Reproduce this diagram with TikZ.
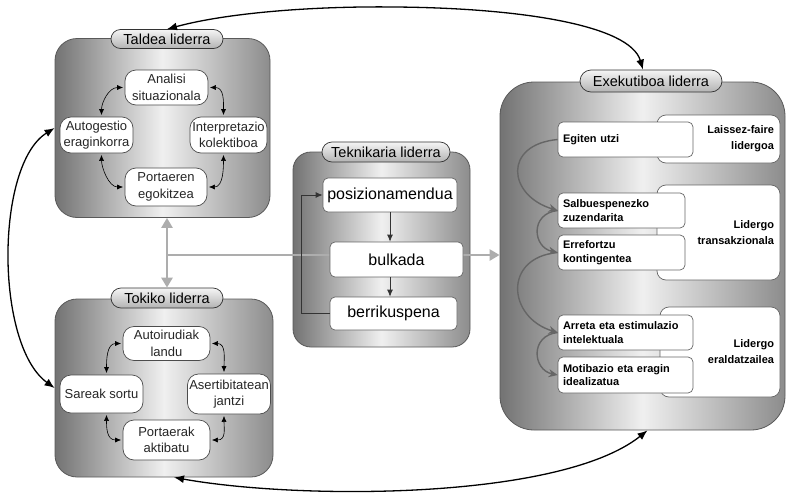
\documentclass[tikz,border=0pt]{standalone}
\usepackage{fontspec}
\setmainfont{Liberation Sans}
\usetikzlibrary{arrows.meta,shapes.misc,calc}
\definecolor{boxL}{gray}{0.45}
\definecolor{boxM}{gray}{0.94}
\definecolor{boxR}{gray}{0.55}
\definecolor{linkgray}{gray}{0.68}
\definecolor{loopgray}{gray}{0.40}
\begin{document}
\begin{tikzpicture}[x=1pt,y=-1pt,
  bigbox/.style={draw=black!65, line width=0.8pt, rounded corners=22pt,
    left color=boxL, right color=boxR, middle color=boxM},
  pill/.style={draw=black!80, line width=0.7pt, rounded rectangle, inner sep=0pt,
    top color=black!4, bottom color=black!30,
    font=\fontsize{14.5}{16}\selectfont},
  cyc/.style={draw=black!70, line width=0.7pt, fill=white, rounded corners=11pt,
    align=center, inner sep=1pt, text=black!85,
    font=\fontsize{13}{16.5}\selectfont},
  tekbox/.style={draw=black!60, line width=0.7pt, fill=white, rounded corners=5pt,
    inner sep=0pt, font=\fontsize{16}{18}\selectfont},
  exleft/.style={draw=black!60, line width=0.7pt, fill=white, rounded corners=5pt,
    inner xsep=5pt, inner ysep=0pt, align=left,
    font=\bfseries\fontsize{11}{13.5}\selectfont},
  exright/.style={draw=black!60, line width=0.7pt, fill=white, rounded corners=9pt,
    inner xsep=6pt, inner ysep=0pt, align=right,
    font=\bfseries\fontsize{11}{16}\selectfont},
  cycarr/.style={draw=black, line width=0.6pt, shorten <=1.5pt, shorten >=1.5pt,
    {Latex[length=6pt,width=5pt]}-{Latex[length=6pt,width=5pt]}},
  tekarr/.style={draw=black!80, line width=0.8pt, -{Latex[length=7pt,width=6pt]}},
  exarr/.style={draw=loopgray, line width=1.4pt, -{Stealth[length=9pt,width=8pt]}},
  bigboth/.style={draw=black, line width=1.3pt,
    {Latex[length=10pt,width=8pt]}-{Latex[length=10pt,width=8pt]}},
  graylink/.style={draw=linkgray, line width=2.5pt},
]
\useasboundingbox (0,0) rectangle (788,498);

% containers
\node[bigbox, minimum width=215, minimum height=179] (taldea) at (162.5,128) {};
\node[bigbox, minimum width=218, minimum height=178] (tokiko) at (164,388) {};
\node[bigbox, minimum width=177, minimum height=195, rounded corners=18pt] (tek) at (381.5,249.5) {};
\node[bigbox, minimum width=285, minimum height=348, rounded corners=34pt] (exek) at (642.5,256) {};

% container titles
\node[pill, minimum width=112, minimum height=19] (taldeaT) at (167,39) {Taldea liderra};
\node[pill, minimum width=112, minimum height=20] (tokikoT) at (167,298) {Tokiko liderra};
\node[pill, minimum width=128, minimum height=20] (tekT) at (386,152) {Teknikaria liderra};
\node[pill, minimum width=142, minimum height=22] (exekT) at (651,81) {Exekutiboa liderra};

% grey links between the groups
\coordinate (j) at (tokikoT.north |- 0,255);
\draw[graylink, {Triangle[length=10pt,width=11pt]}-{Triangle[length=10pt,width=11pt]}]
  (taldea.south -| tokikoT.north) -- (tokikoT.north);
\draw[graylink, -{Triangle[length=10pt,width=11pt]}] (j) -- (j -| exek.west);

% Taldea liderra cycle
\node[cyc, minimum width=83, minimum height=35] (analisi) at (166.5,87.5) {Analisi\\situazionala};
\node[cyc, minimum width=73, minimum height=36] (autog) at (96.5,135) {Autogestio\\eraginkorra};
\node[cyc, minimum width=77, minimum height=36] (interp) at (228.5,135) {Interpretazio\\kolektiboa};
\node[cyc, minimum width=82, minimum height=38] (portaeren) at (166,187) {Portaeren\\egokitzea};
\draw[cycarr] (analisi.west) .. controls +(-16,0) and +(0,-14) .. ([xshift=5pt]autog.north);
\draw[cycarr] (analisi.east) .. controls +(16,0) and +(0,-14) .. ([xshift=-5pt]interp.north);
\draw[cycarr] ([xshift=5pt]autog.south) .. controls +(0,14) and +(-16,0) .. (portaeren.west);
\draw[cycarr] ([xshift=-5pt]interp.south) .. controls +(0,14) and +(16,0) .. (portaeren.east);

% Tokiko liderra cycle
\node[cyc, minimum width=87, minimum height=34] (autoir) at (166.5,343.5) {Autoirudiak\\landu};
\node[cyc, minimum width=83, minimum height=38] (sareak) at (101.5,394) {Sareak sortu};
\node[cyc, minimum width=83, minimum height=40] (asert) at (229,394) {Asertibitatean\\jantzi};
\node[cyc, minimum width=87, minimum height=40] (portaerak) at (166.5,440) {Portaerak\\aktibatu};
\draw[cycarr] (autoir.west) .. controls +(-16,0) and +(0,-14) .. ([xshift=5pt]sareak.north);
\draw[cycarr] (autoir.east) .. controls +(16,0) and +(0,-14) .. ([xshift=-5pt]asert.north);
\draw[cycarr] ([xshift=5pt]sareak.south) .. controls +(0,14) and +(-16,0) .. (portaerak.west);
\draw[cycarr] ([xshift=-5pt]asert.south) .. controls +(0,14) and +(16,0) .. (portaerak.east);

% Teknikaria liderra sequence
\node[tekbox, minimum width=134, minimum height=34] (pos) at (390,195) {posizionamendua};
\node[tekbox, minimum width=133, minimum height=35] (bulk) at (396.5,259.5) {bulkada};
\node[tekbox, minimum width=127, minimum height=33] (berr) at (393.5,313.5) {berrikuspena};
\draw[tekarr] (pos.south) -- (pos.south |- bulk.north);
\draw[tekarr] (bulk.south -| pos.south) -- (berr.north -| pos.south);
\draw[tekarr] (berr.west) -- ++(-28,0) |- (pos.west);

% Exekutiboa liderra styles
\node[exright, minimum height=48, text width=111] (laissez) at (718.5,139) {Laissez-faire\\lidergoa};
\node[exright, minimum height=95, text width=111] (transak) at (718.5,232.5) {Lidergo\\transakzionala};
\node[exright, minimum height=90, text width=108] (eraldatz) at (720,352) {Lidergo\\eraldatzailea};
\node[exleft, minimum height=35, text width=125] (egiten) at (625.5,139.5) {Egiten utzi};
\node[exleft, minimum height=35, text width=117] (salb) at (621.5,210.5) {Salbuespenezko\\zuzendarita};
\node[exleft, minimum height=35, text width=117] (erref) at (621.5,252.5) {Errefortzu\\kontingentea};
\node[exleft, minimum height=35, text width=125] (arreta) at (625.5,332.5) {Arreta eta estimulazio\\intelektuala};
\node[exleft, minimum height=36, text width=125] (motib) at (625.5,375) {Motibazio eta eragin\\idealizatua};
\draw[exarr] (egiten.west) .. controls +(-55,5) and +(-50,-15) .. (salb.west);
\draw[exarr] (salb.west) .. controls +(-28,3) and +(-25,-5) .. (erref.west);
\draw[exarr] (erref.west) .. controls +(-55,5) and +(-50,-15) .. (arreta.west);
\draw[exarr] (arreta.west) .. controls +(-28,3) and +(-25,-5) .. (motib.west);

% links around the outside
\draw[bigboth] (taldeaT.north) .. controls (230,12) and (320,6) .. (395,7)
  .. controls (520,8) and (630,25) .. ([xshift=-8pt]exekT.north);
\draw[bigboth] (taldea.west) .. controls (-5,165) and (-5,345) .. (tokiko.west);
\draw[bigboth] ([xshift=10pt]tokiko.south) .. controls (300,500) and (560,500)
  .. ([xshift=5pt]exek.south);
\end{tikzpicture}
\end{document}
